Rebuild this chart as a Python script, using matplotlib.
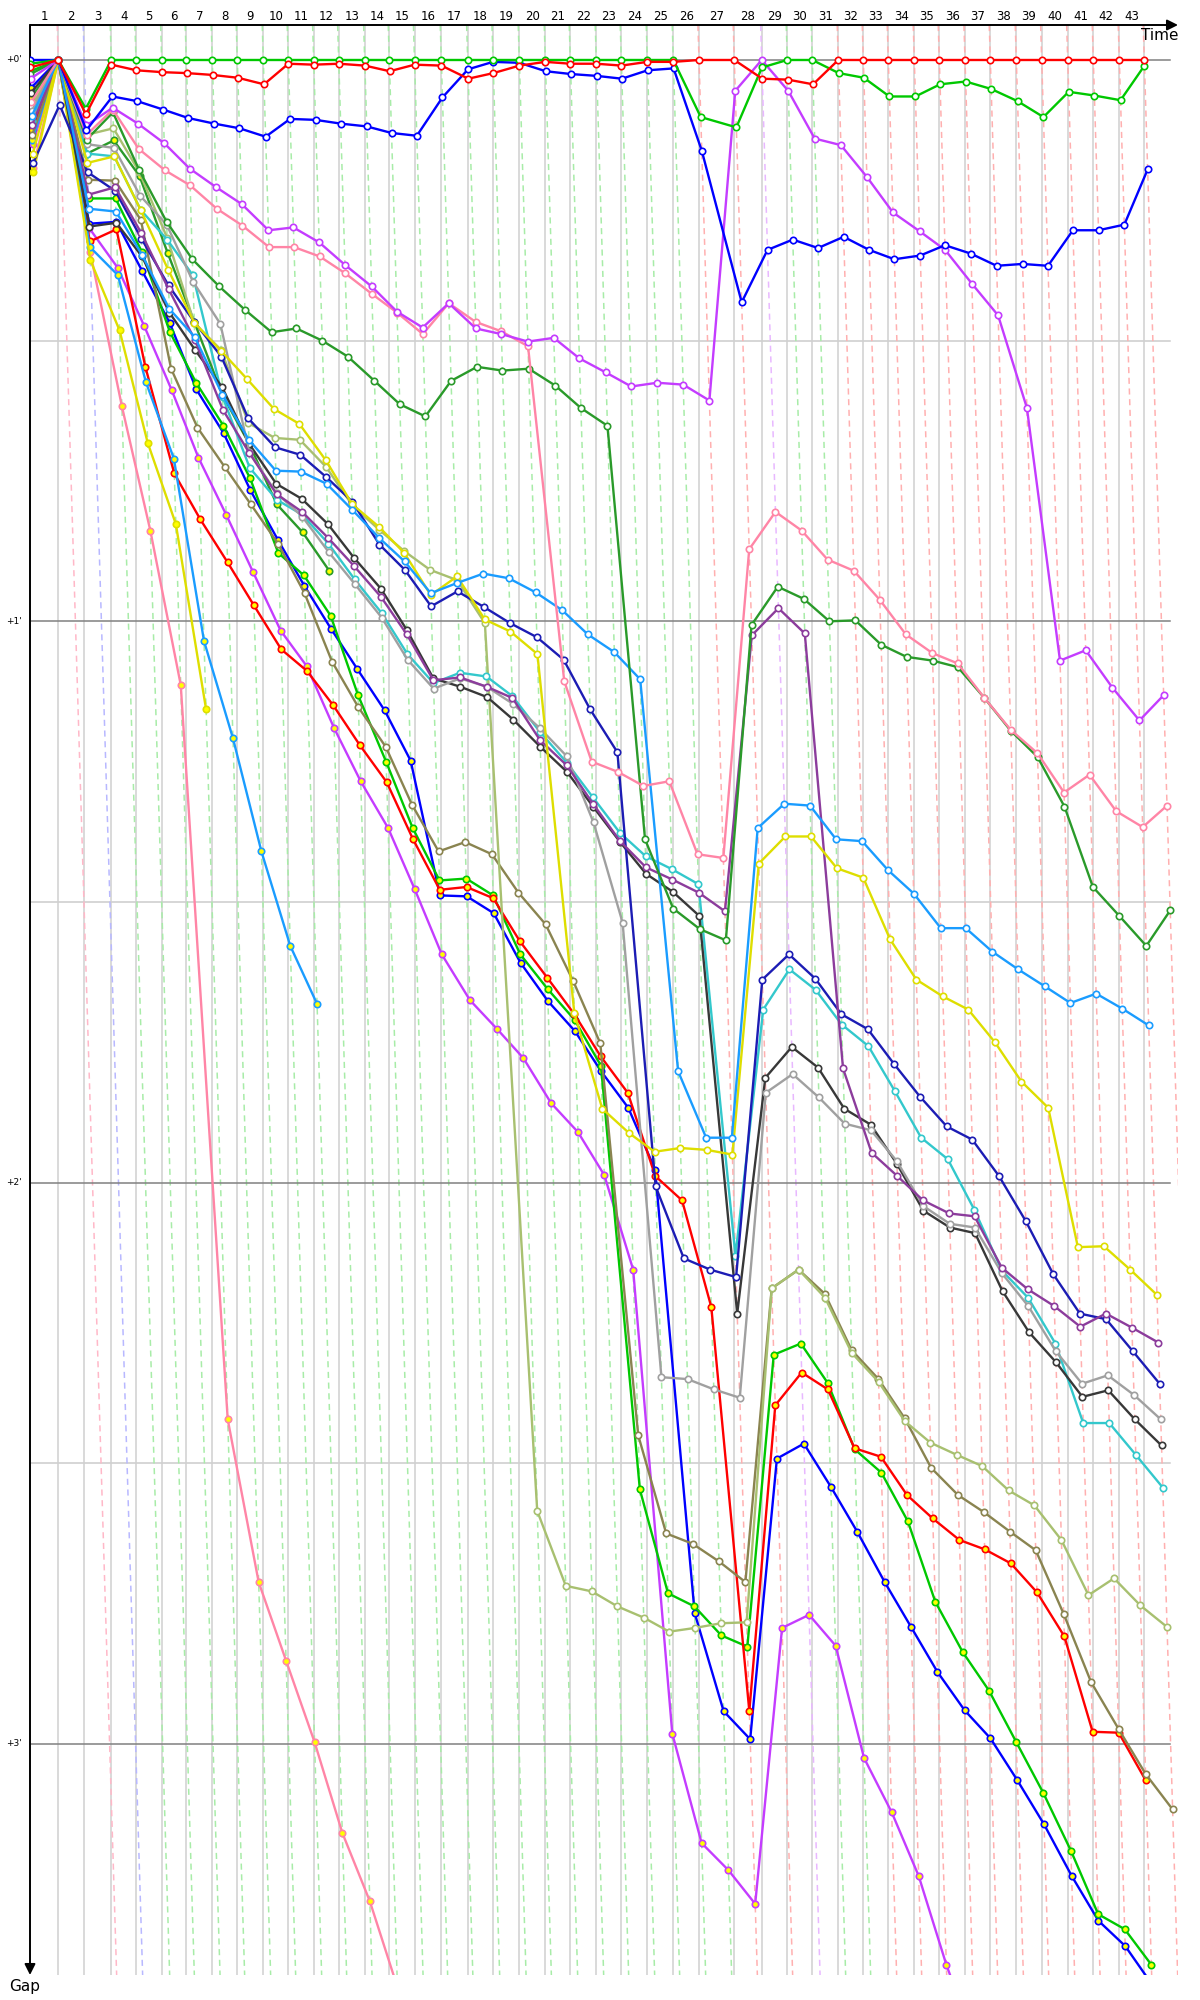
import numpy as np
import matplotlib.pyplot as plt
from matplotlib import transforms

# leader lap times (s), laps 1..43
LEADER_LAP_TIMES = [99.3, 91.2, 94.8, 86.6, 90.2, 86.3, 91.2, 87.8, 91.2, 87.7,
                    89.1, 87.8, 91.2, 86.3, 88.4, 94.1, 92.6, 88.8, 92.2, 91.3,
                    87.7, 91.2, 87.7, 91.3, 91.2, 90.2, 123.8, 96.2, 89.8, 87.7,
                    91.2, 87.8, 87.7, 91.2, 87.7, 90.2, 88.8, 91.2, 89.1, 91.3,
                    89.8, 91.2, 87.7]
LAP_LABELS = [str(i) for i in range(1, 44)]
# team colour of the leader at each lap line 1..43
LEADER_BY_LAP = (["pink", "blue"] + ["green"] * 23 + ["red"] * 2 + ["violet"]
                 + ["green"] * 2 + ["red"] * 13)
GAP_TICKS = [0, 60, 120, 180]
GAP_LABELS = ["+0'", "+1'", "+2'", "+3'"]

# gap to leader in seconds, lap 0 onwards
RED_A = [0.8, 0.0, 5.8, 0.5, 1.1, 1.3, 1.4, 1.6, 1.9, 2.6,
         0.4, 0.5, 0.4, 0.6, 1.2, 0.5, 0.6, 2.0, 1.4, 0.6,
         0.2, 0.4, 0.4, 0.6, 0.2, 0.2, 0.0, 0.0, 2.0, 2.1,
         2.6, 0.0, 0.0, 0.0, 0.0, 0.0, 0.0, 0.0, 0.0, 0.0,
         0.0, 0.0, 0.0, 0.0]
GREEN_A = [0.4, 0.0, 5.2, 0.0, 0.0, 0.0, 0.0, 0.0, 0.0, 0.0,
           0.0, 0.0, 0.0, 0.0, 0.0, 0.0, 0.0, 0.0, 0.0, 0.0,
           0.0, 0.0, 0.0, 0.0, 0.0, 0.0, 6.1, 7.2, 0.8, 0.0,
           0.0, 1.4, 1.9, 3.9, 3.9, 2.6, 2.3, 3.1, 4.4, 6.1,
           3.4, 3.8, 4.3, 0.6]
BLUE_A = [0.0, 0.0, 7.5, 3.9, 4.4, 5.3, 6.2, 6.8, 7.3, 8.2,
          6.3, 6.4, 6.8, 7.1, 7.8, 8.1, 4.0, 1.0, 0.2, 0.3,
          1.2, 1.5, 1.7, 2.0, 1.1, 0.9, 9.7, 25.9, 20.3, 19.2,
          20.1, 18.9, 20.3, 21.3, 20.9, 19.8, 20.7, 22.0, 21.8, 22.0,
          18.2, 18.2, 17.6, 11.7]
VIOLET_A = [2.0, 0.0, 7.0, 5.1, 6.8, 8.9, 11.6, 13.6, 15.4, 18.2,
            17.9, 19.5, 21.9, 24.2, 26.9, 28.6, 26.0, 28.7, 29.3, 30.1,
            29.7, 31.9, 33.4, 34.9, 34.5, 34.7, 36.4, 3.3, 0.0, 3.3,
            8.4, 9.1, 12.5, 16.3, 18.3, 20.3, 23.9, 27.3, 37.2, 64.2,
            63.1, 67.1, 70.6, 67.9]
PINK_A = [4.5, 0.0, 8.0, 5.3, 9.5, 11.8, 13.4, 15.9, 17.7, 20.0,
          20.0, 21.0, 22.8, 25.0, 27.0, 29.3, 26.0, 28.0, 29.0, 30.6,
          66.4, 75.0, 76.1, 77.6, 77.1, 84.9, 85.3, 52.3, 48.3, 50.3,
          53.4, 54.6, 57.7, 61.4, 63.4, 64.5, 68.2, 71.6, 74.1, 78.3,
          76.4, 80.3, 82.0, 79.7]
DKGREEN_A = [1.5, 0.0, 8.5, 5.6, 11.8, 17.3, 21.3, 24.2, 26.7, 29.1,
             28.7, 30.0, 31.7, 34.3, 36.8, 38.1, 34.3, 32.8, 33.2, 33.0,
             34.8, 37.2, 39.1, 83.3, 90.7, 92.9, 94.1, 60.4, 56.3, 57.6,
             60.0, 59.9, 62.5, 63.8, 64.2, 64.9, 68.2, 71.7, 74.5, 79.8,
             88.4, 91.5, 94.7, 90.9]
DODGER_A = [6.0, 0.0, 15.9, 16.2, 20.8, 26.6, 29.6, 35.8, 40.6, 43.9,
            44.0, 45.3, 48.1, 51.1, 53.6, 57.0, 55.9, 54.9, 55.4, 56.9,
            58.8, 61.4, 63.3, 66.2, 108.1, 115.2, 115.2, 82.1, 79.5, 79.7,
            83.3, 83.5, 86.6, 89.1, 92.8, 92.8, 95.3, 97.2, 99.0, 100.8,
            99.8, 101.4, 103.2]
YELLOW_A = [10.0, 0.0, 11.0, 10.3, 16.0, 22.4, 28.1, 31.1, 34.1, 37.3,
            38.9, 42.8, 47.5, 49.9, 52.7, 57.2, 55.2, 59.8, 61.1, 63.5,
            101.9, 112.1, 114.7, 116.7, 116.3, 116.5, 117.0, 85.9, 83.0, 83.0,
            86.4, 87.4, 94.0, 98.3, 100.1, 101.5, 105.0, 109.2, 112.0, 126.9,
            126.8, 129.3, 132.0]
PURPLE_A = [7.0, 0.0, 14.4, 13.6, 18.5, 24.5, 29.9, 37.4, 42.0, 46.4,
            48.3, 51.1, 54.1, 57.4, 61.4, 66.3, 66.0, 67.0, 68.2, 72.7,
            75.4, 79.5, 83.5, 86.3, 87.6, 89.0, 91.0, 61.5, 58.6, 61.3,
            107.8, 116.8, 119.3, 121.9, 123.3, 123.6, 129.1, 131.4, 133.2, 135.4,
            134.0, 135.5, 137.1]
NAVY_A = [11.0, 4.8, 12.0, 14.0, 19.1, 24.1, 28.0, 31.7, 38.3, 41.4,
          42.2, 44.6, 47.2, 51.8, 54.5, 58.4, 56.8, 58.5, 60.2, 61.7,
          64.1, 69.4, 74.0, 120.4, 128.1, 129.3, 130.1, 98.3, 95.6, 98.2,
          102.0, 103.6, 107.3, 110.8, 114.0, 115.4, 119.3, 124.1, 129.8, 134.0,
          134.6, 138.0, 141.5]
GREY_A = [5.5, 0.0, 9.0, 9.4, 14.5, 17.6, 23.7, 28.2, 41.9, 46.3,
          48.8, 52.6, 56.0, 59.6, 64.1, 67.2, 66.1, 67.0, 68.8, 71.4,
          74.4, 81.5, 92.2, 140.8, 141.0, 142.1, 143.0, 110.4, 108.4, 110.9,
          113.7, 114.4, 117.7, 122.5, 124.4, 124.8, 129.7, 133.2, 138.0, 141.5,
          140.6, 142.7, 145.3]
BLACK_A = [3.5, 0.0, 17.8, 17.4, 21.0, 27.0, 31.0, 35.0, 41.0, 45.3,
           46.9, 49.6, 53.2, 56.5, 60.9, 66.1, 67.0, 68.1, 70.5, 73.4,
           76.1, 79.8, 83.6, 87.0, 88.9, 91.5, 134.0, 108.8, 105.5, 107.7,
           112.1, 113.8, 118.0, 123.0, 124.8, 125.4, 131.6, 136.0, 139.2, 142.9,
           142.2, 145.3, 148.1]
CYAN_A = [6.5, 0.0, 10.0, 10.3, 16.0, 19.2, 23.0, 36.0, 43.6, 47.0,
          48.6, 51.7, 55.5, 59.1, 63.5, 66.6, 65.5, 65.9, 68.0, 71.8,
          75.1, 78.8, 82.6, 85.1, 86.5, 88.1, 127.8, 101.5, 97.2, 99.4,
          103.1, 105.4, 110.2, 115.2, 117.5, 122.9, 129.4, 132.3, 137.2, 145.7,
          145.7, 149.1, 152.6]
LTOLIVE_A = [5.0, 0.0, 8.0, 7.3, 12.0, 19.0, 28.1, 31.0, 38.8, 40.4,
             40.6, 43.5, 47.6, 50.2, 52.5, 54.5, 55.6, 60.2, 155.1, 163.1,
             163.7, 165.3, 166.5, 168.0, 167.6, 167.1, 167.0, 131.3, 129.3, 132.3,
             138.2, 141.3, 145.5, 147.8, 149.1, 150.3, 152.9, 154.5, 158.2, 164.1,
             162.3, 165.2, 167.5]
OLIVE_A = [8.0, 0.0, 12.8, 12.9, 17.1, 33.0, 39.3, 43.5, 47.5, 51.7,
           57.0, 64.3, 69.2, 73.4, 79.6, 84.6, 83.6, 84.9, 89.0, 92.4,
           98.5, 105.1, 147.0, 157.5, 158.6, 160.5, 162.7, 131.3, 129.3, 131.9,
           137.9, 141.0, 145.2, 150.5, 153.4, 155.2, 157.3, 159.3, 166.1, 173.4,
           178.4, 183.2, 187.0]
RED_B = [7.5, 0.0, 19.4, 18.1, 32.8, 44.2, 49.1, 53.7, 58.3, 63.0,
         65.3, 69.0, 73.2, 77.2, 83.3, 88.7, 88.4, 89.6, 94.2, 98.1,
         102.0, 106.5, 110.4, 119.3, 121.9, 133.3, 176.5, 143.8, 140.3, 142.1,
         148.4, 149.3, 153.4, 155.9, 158.2, 159.2, 160.7, 163.8, 168.5, 178.7,
         178.8, 183.9]
GREEN_B = [1.2, 0.0, 14.8, 14.8, 20.5, 29.1, 34.5, 39.1, 44.7, 52.7,
           55.1, 59.4, 67.9, 75.0, 82.1, 87.7, 87.5, 89.3, 95.6, 99.3,
           102.6, 107.5, 152.8, 163.9, 165.3, 168.4, 169.6, 138.4, 137.2, 141.4,
           148.5, 151.0, 156.2, 164.8, 170.2, 174.3, 179.8, 185.2, 191.4, 198.2,
           199.8, 203.6]
BLUE_B = [3.0, 0.0, 17.5, 17.3, 22.6, 28.1, 35.2, 39.9, 46.0, 51.3,
          56.2, 60.8, 65.1, 69.5, 74.9, 89.3, 89.4, 91.2, 96.5, 100.6,
          103.8, 108.1, 112.0, 118.6, 166.0, 176.5, 179.5, 149.5, 147.9, 152.5,
          157.3, 162.7, 167.5, 172.3, 176.4, 179.4, 183.9, 188.6, 194.1, 198.9,
          201.6, 205.7]
VIOLET_B = [9.0, 0.0, 18.0, 22.2, 28.4, 35.3, 42.5, 48.6, 54.7, 61.0,
            64.8, 71.4, 77.1, 82.1, 88.6, 95.6, 100.5, 103.6, 106.7, 111.5,
            114.6, 119.2, 129.3, 178.9, 190.6, 193.5, 197.1, 167.6, 166.2, 169.5,
            181.5, 187.3, 194.1, 203.6, 212.0]
PINK_B = [11.5, 0.0, 20.5, 37.0, 50.3, 66.8, 145.3, 162.7, 171.1, 179.8,
          189.5, 196.8, 206.0, 214.0]
DODGER_B = [8.5, 0.0, 20.0, 23.0, 34.4, 42.6, 62.1, 72.5, 84.6, 94.7, 100.9]
YELLOW_B = [12.0, 0.0, 21.4, 28.9, 40.9, 49.6, 69.4]
DKGREEN_B = [4.0, 0.0, 10.0, 8.6, 12.4, 20.6, 28.0, 35.8, 41.0, 47.5, 50.5, 54.6]

TEAM_COLORS = {
    "red": "#ff0000", "green": "#00c800", "blue": "#0000ff", "violet": "#c43cff",
    "pink": "#ff85a6", "dkgreen": "#2a9a2a", "dodger": "#1a9cff", "yellow": "#dede00",
    "purple": "#8c3c9c", "navy": "#1c1cb4", "grey": "#a0a0a0", "black": "#383838",
    "cyan": "#33c8cc", "ltolive": "#a8c070", "olive": "#8a8450",
}
LAP_LINE_COLORS = {"green": "#a8eca8", "red": "#ffb0b0", "violet": "#e8b8ff",
                   "blue": "#b8b8ff", "pink": "#ffb8c8"}

# (gaps, team, second driver of the team -> yellow markers)
DRIVERS = [
    (PINK_B, "pink", True), (VIOLET_B, "violet", True), (BLUE_B, "blue", True),
    (GREEN_B, "green", True), (RED_B, "red", True), (DODGER_B, "dodger", True),
    (YELLOW_B, "yellow", True), (DKGREEN_B, "dkgreen", True),
    (OLIVE_A, "olive", False), (LTOLIVE_A, "ltolive", False), (CYAN_A, "cyan", False),
    (BLACK_A, "black", False), (GREY_A, "grey", False), (NAVY_A, "navy", False),
    (PURPLE_A, "purple", False), (YELLOW_A, "yellow", False), (DODGER_A, "dodger", False),
    (DKGREEN_A, "dkgreen", False), (PINK_A, "pink", False), (VIOLET_A, "violet", False),
    (BLUE_A, "blue", False), (GREEN_A, "green", False), (RED_A, "red", False),
]

X_MAX = 4028.0
Y_TOP, Y_BOTTOM = -3.74, 204.7


def main():
    fig = plt.figure(figsize=(12, 20), dpi=100)
    ax = fig.add_axes([30 / 1200, 25 / 2000, 1148 / 1200, 1950 / 2000])
    ax.set_xlim(0, X_MAX)
    ax.set_ylim(Y_BOTTOM, Y_TOP)
    for s in ax.spines.values():
        s.set_visible(False)
    ax.set_xticks([])
    ax.set_yticks([])

    lap_ends = np.concatenate([[0.0], np.cumsum(LEADER_LAP_TIMES)])

    # gap grid
    for m in GAP_TICKS:
        ax.plot([0, 4000], [m, m], color="#808080", lw=1.1, zorder=2)
    for m in [30, 90, 150]:
        ax.plot([0, 4000], [m, m], color="#cccccc", lw=1.1, zorder=1)

    # lap lines: solid at leader time, dashed shifted by the gap
    for k in range(1, len(lap_ends)):
        t = lap_ends[k]
        ax.plot([t, t], [Y_TOP, Y_BOTTOM], color="#d0d0d0", lw=1.1, zorder=1)
        ax.plot([t + Y_TOP, t + Y_BOTTOM], [Y_TOP, Y_BOTTOM],
                color=LAP_LINE_COLORS[LEADER_BY_LAP[k - 1]], lw=1.1,
                dashes=(4, 3), zorder=1.5)

    # drivers
    for i, (gaps, team, second) in enumerate(DRIVERS):
        g = np.array(gaps)
        x = lap_ends[:len(g)] + g
        c = TEAM_COLORS[team]
        ax.plot(x, g, color=c, lw=1.7, marker="o", ms=4.6,
                mfc="#ffff00" if second else "white", mec=c, mew=1.2,
                zorder=3 + i * 0.01)

    # lap numbers along the top
    top = transforms.blended_transform_factory(ax.transData, ax.transAxes)
    for k, lab in enumerate(LAP_LABELS):
        mid = (lap_ends[k] + lap_ends[k + 1]) / 2
        ax.text(mid, 1.0042, lab, transform=top, ha="center", va="center",
                fontsize=8.5, clip_on=False)

    # gap labels on the left
    left = transforms.blended_transform_factory(ax.transAxes, ax.transData)
    for m, lab in zip(GAP_TICKS, GAP_LABELS):
        ax.text(-0.007, m, lab, transform=left, ha="right", va="center",
                fontsize=6.5, clip_on=False)

    # axes with arrows
    arrow = dict(arrowstyle="-|>", color="black", lw=1.4, mutation_scale=16,
                 shrinkA=0, shrinkB=0)
    ax.annotate("", xy=(1, 1), xytext=(0, 1), xycoords="axes fraction",
                textcoords="axes fraction", arrowprops=arrow)
    ax.annotate("", xy=(0, 0), xytext=(0, 1), xycoords="axes fraction",
                textcoords="axes fraction", arrowprops=arrow)
    fig.text(1160 / 1200, 1 - 35 / 2000, "Time", ha="center", va="center", fontsize=11)
    fig.text(25 / 1200, 1 - 1986 / 2000, "Gap", ha="center", va="center", fontsize=11)

    fig.savefig("out.png", dpi=100)


if __name__ == "__main__":
    main()
